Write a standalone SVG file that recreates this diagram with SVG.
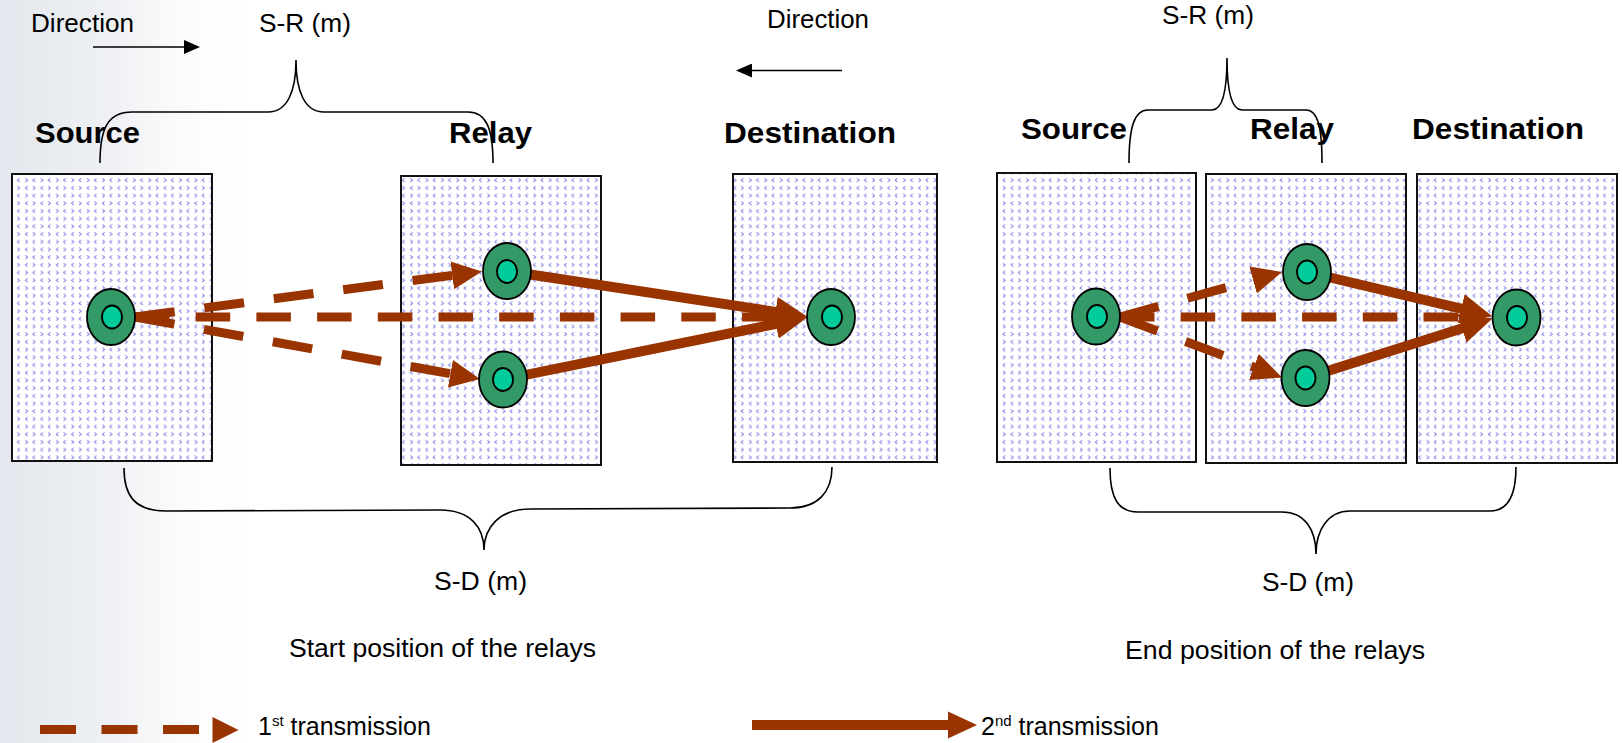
<svg xmlns="http://www.w3.org/2000/svg" width="1623" height="743" viewBox="0 0 1623 743">
  <style>
    .lbl { font-family: "Liberation Sans", Arial, sans-serif; font-size: 25px; fill: #000; }
    .hdr { font-family: "Liberation Sans", Arial, sans-serif; font-size: 30px; font-weight: bold; fill: #000; }
    .box { fill: url(#divot); stroke: #111; stroke-width: 2; }
    .outer { fill: #339966; stroke: #000; stroke-width: 1.8; }
    .inner { fill: #00cc99; stroke: #000; stroke-width: 1.8; }
    .brace { fill: none; stroke: #000; stroke-width: 1.6; }
    .dir { stroke: #000; stroke-width: 1.6; }
    .tx1 { fill: none; stroke: #993300; stroke-width: 9; stroke-dasharray: 40 30; }
    .tx1h { fill: none; stroke: #993300; stroke-width: 9; stroke-dasharray: 34.5 26.2; }
    .tx2 { fill: none; stroke: #993300; stroke-width: 10; }
  </style>
  <defs>
    <linearGradient id="bg" x1="0" y1="0" x2="260" y2="0" gradientUnits="userSpaceOnUse">
      <stop offset="0" stop-color="#e3e7ed"/>
      <stop offset="0.45" stop-color="#eff1f4"/>
      <stop offset="1" stop-color="#ffffff" stop-opacity="0"/>
    </linearGradient>
    <pattern id="divot" width="15.4" height="15.4" patternUnits="userSpaceOnUse">
      <rect width="15.4" height="15.4" fill="#fff"/>
      <g fill="none" stroke="#4a4adc" stroke-width="1" stroke-opacity="0.72">
        <path d="M2,1.3 l2.2,1.8 l-2.2,1.8"/>
        <path d="M12.2,1.3 l-2.2,1.8 l2.2,1.8"/>
        <path d="M4.2,9 l-2.2,1.8 l2.2,1.8"/>
        <path d="M10,9 l2.2,1.8 l-2.2,1.8"/>
      </g>
    </pattern>
    <marker id="headDash" markerUnits="userSpaceOnUse" markerWidth="30" markerHeight="28" refX="2" refY="14" orient="auto">
      <path d="M0,0 L30,14 L0,28 Z" fill="#993300"/>
    </marker>
    <marker id="headSolid" markerUnits="userSpaceOnUse" markerWidth="32" markerHeight="30" refX="2" refY="15" orient="auto">
      <path d="M0,0 L32,15 L0,30 Z" fill="#993300"/>
    </marker>
    <marker id="headDir" markerUnits="userSpaceOnUse" markerWidth="16" markerHeight="14" refX="1" refY="7" orient="auto">
      <path d="M0,0 L16,7 L0,14 Z" fill="#000"/>
    </marker>
  </defs>

  <!-- page -->
  <rect width="1623" height="743" fill="#fff"/>
  <rect width="260" height="743" fill="url(#bg)"/>

  <!-- ===== start position ===== -->
  <g id="start-labels">
    <text class="lbl" x="31" y="32" textLength="103" lengthAdjust="spacingAndGlyphs">Direction</text>
    <line class="dir" x1="93" y1="47" x2="185" y2="47" marker-end="url(#headDir)"/>
    <text class="lbl" x="259" y="32" textLength="92" lengthAdjust="spacingAndGlyphs">S-R (m)</text>
    <path class="brace" d="M100,163 C100,128 108,112 132,112 L268,112 C287,112 296,92 296,60 C296,92 305,112 324,112 L468,112 C486,112 493,128 493,163"/>
    <path class="brace" d="M124,468 C124,495 134,511 166,511 L440,510 C470,510 484,527 484,550 C484,527 500,509 530,509 L790,508 C818,508 832,492 832,467"/>
    <text class="lbl" x="434" y="590" textLength="93" lengthAdjust="spacingAndGlyphs">S-D (m)</text>
    <text class="lbl" x="289" y="657" textLength="307" lengthAdjust="spacingAndGlyphs">Start position of the relays</text>
  </g>

  <g id="start-source">
    <text class="hdr" x="35" y="143" textLength="105" lengthAdjust="spacingAndGlyphs">Source</text>
    <rect class="box" x="12" y="174" width="200" height="287"/>
  </g>
  <g id="start-relay">
    <text class="hdr" x="449" y="143" textLength="83" lengthAdjust="spacingAndGlyphs">Relay</text>
    <rect class="box" x="401" y="176" width="200" height="289"/>
  </g>
  <g id="start-destination">
    <text class="hdr" x="724" y="143" textLength="172" lengthAdjust="spacingAndGlyphs">Destination</text>
    <rect class="box" x="733" y="174" width="204" height="288"/>
  </g>

  <g id="start-connectors">
    <line class="tx1h" x1="135" y1="317" x2="777" y2="317"/>
    <line class="tx1" x1="135" y1="317" x2="454.2" y2="275.1" marker-end="url(#headDash)"/>
    <line class="tx1" x1="135" y1="317" x2="452.4" y2="374.05" marker-end="url(#headDash)"/>
    <line class="tx2" x1="507" y1="271" x2="777.4" y2="312.1" marker-end="url(#headSolid)"/>
    <line class="tx2" x1="503" y1="379.5" x2="777.7" y2="323.5" marker-end="url(#headSolid)"/>
  </g>

  <g id="start-node-s">
    <ellipse class="outer" cx="111" cy="317" rx="24" ry="28"/>
    <ellipse class="inner" cx="112" cy="317" rx="10" ry="11.5"/>
  </g>
  <g id="start-node-r1">
    <ellipse class="outer" cx="507" cy="271" rx="24" ry="28"/>
    <ellipse class="inner" cx="507" cy="271.5" rx="10" ry="11.5"/>
  </g>
  <g id="start-node-r2">
    <ellipse class="outer" cx="503" cy="379.5" rx="24" ry="28"/>
    <ellipse class="inner" cx="503" cy="379.5" rx="10" ry="11.5"/>
  </g>
  <g id="start-node-d">
    <ellipse class="outer" cx="831" cy="317" rx="24" ry="28"/>
    <ellipse class="inner" cx="832" cy="317" rx="10" ry="11.5"/>
  </g>

  <!-- ===== end position ===== -->
  <g id="end-labels">
    <text class="lbl" x="767" y="28" textLength="102" lengthAdjust="spacingAndGlyphs">Direction</text>
    <line class="dir" x1="842" y1="70.5" x2="751" y2="70.5" marker-end="url(#headDir)"/>
    <text class="lbl" x="1162" y="24" textLength="92" lengthAdjust="spacingAndGlyphs">S-R (m)</text>
    <path class="brace" d="M1129,163 C1129,128 1134,110 1148,110 L1212,110 C1222,110 1227,92 1227,58 C1227,92 1232,110 1242,110 L1306,110 C1318,110 1322,128 1322,163"/>
    <path class="brace" d="M1110,468 C1110,498 1118,512 1138,512 L1282,512 C1305,512 1316,530 1316,554 C1316,530 1328,511 1350,511 L1490,511 C1508,511 1516,496 1516,467"/>
    <text class="lbl" x="1262" y="591" textLength="92" lengthAdjust="spacingAndGlyphs">S-D (m)</text>
    <text class="lbl" x="1125" y="659" textLength="300" lengthAdjust="spacingAndGlyphs">End position of the relays</text>
  </g>

  <g id="end-source">
    <text class="hdr" x="1021" y="139" textLength="106" lengthAdjust="spacingAndGlyphs">Source</text>
    <rect class="box" x="997" y="173" width="199" height="289"/>
  </g>
  <g id="end-relay">
    <text class="hdr" x="1250" y="139" textLength="84" lengthAdjust="spacingAndGlyphs">Relay</text>
    <rect class="box" x="1206" y="174" width="200" height="289"/>
  </g>
  <g id="end-destination">
    <text class="hdr" x="1412" y="139" textLength="172" lengthAdjust="spacingAndGlyphs">Destination</text>
    <rect class="box" x="1417" y="174" width="200" height="289"/>
  </g>

  <g id="end-connectors">
    <line class="tx1h" x1="1120" y1="317" x2="1460" y2="317"/>
    <line class="tx1" x1="1120" y1="317" x2="1255" y2="279.5" marker-end="url(#headDash)"/>
    <line class="tx1" x1="1120" y1="317" x2="1255.8" y2="367.7" marker-end="url(#headDash)"/>
    <line class="tx2" x1="1307" y1="272" x2="1463.1" y2="309.2" marker-end="url(#headSolid)"/>
    <line class="tx2" x1="1305.5" y1="378" x2="1463.9" y2="327.7" marker-end="url(#headSolid)"/>
  </g>

  <g id="end-node-s">
    <ellipse class="outer" cx="1096" cy="316.5" rx="24" ry="28"/>
    <ellipse class="inner" cx="1097" cy="316.5" rx="10" ry="11.5"/>
  </g>
  <g id="end-node-r1">
    <ellipse class="outer" cx="1307" cy="272" rx="24" ry="28"/>
    <ellipse class="inner" cx="1307" cy="272" rx="10" ry="11.5"/>
  </g>
  <g id="end-node-r2">
    <ellipse class="outer" cx="1305.5" cy="378" rx="24" ry="28"/>
    <ellipse class="inner" cx="1305.5" cy="378" rx="10" ry="11.5"/>
  </g>
  <g id="end-node-d">
    <ellipse class="outer" cx="1516.5" cy="317.5" rx="24" ry="28"/>
    <ellipse class="inner" cx="1517" cy="317.5" rx="10" ry="11.5"/>
  </g>

  <!-- ===== legend ===== -->
  <g id="legend-first">
    <line class="tx1" x1="40" y1="729.5" x2="213" y2="729.5" style="stroke-dasharray:36 25.5"/>
    <path d="M212.5,717 L238.5,730 L212.5,743 Z" fill="#993300"/>
    <text class="lbl" x="258" y="735">1<tspan font-size="15" dy="-9">st</tspan><tspan dy="9"> transmission</tspan></text>
  </g>
  <g id="legend-second">
    <line class="tx2" x1="752" y1="725" x2="950" y2="725"/>
    <path d="M948,711.5 L977,725 L948,738.5 Z" fill="#993300"/>
    <text class="lbl" x="981" y="735">2<tspan font-size="15" dy="-9">nd</tspan><tspan dy="9"> transmission</tspan></text>
  </g>
</svg>
